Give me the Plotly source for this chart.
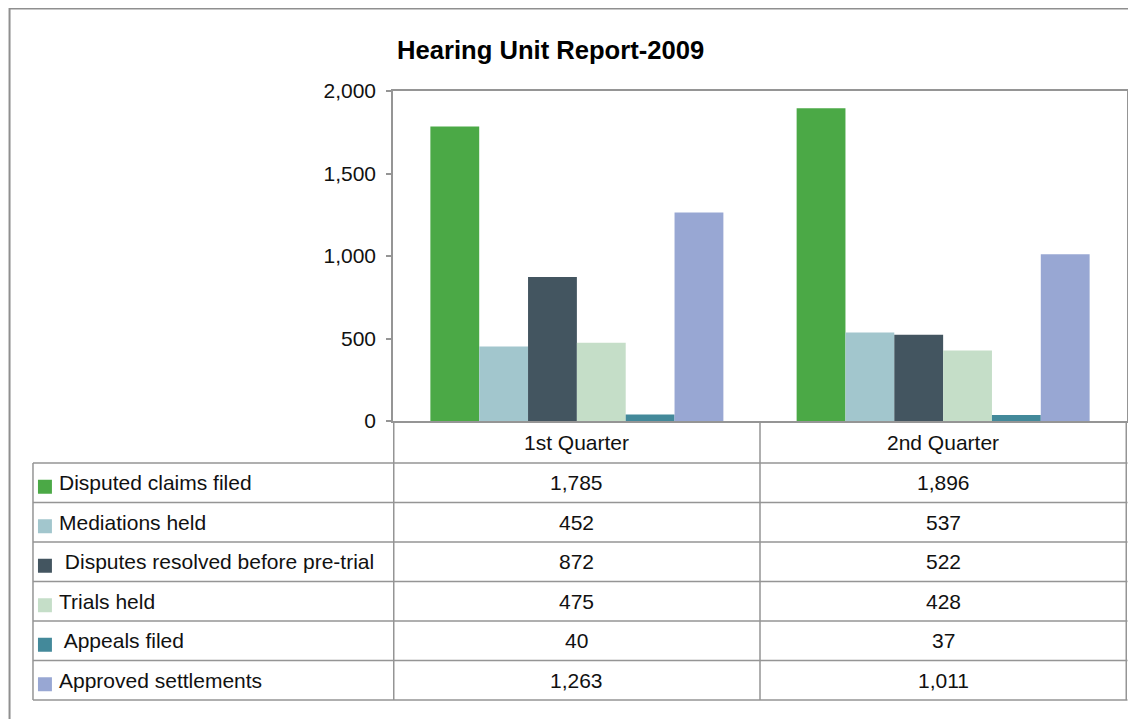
import plotly.graph_objects as go

# ---- data ----
quarters = ["1st Quarter", "2nd Quarter"]
series_names = [
    "Disputed claims filed",
    "Mediations held",
    " Disputes resolved before pre-trial",
    "Trials held",
    " Appeals filed",
    "Approved settlements",
]
disputed_claims = [1785, 1896]
mediations = [452, 537]
disputes_resolved = [872, 522]
trials = [475, 428]
appeals = [40, 37]
settlements = [1263, 1011]
series_values = [disputed_claims, mediations, disputes_resolved, trials, appeals, settlements]
colors = ["#4BA946", "#A2C6CD", "#435560", "#C5DEC8", "#43899A", "#98A7D3"]
title_text = "Hearing Unit Report-2009"
y_ticks = [0, 500, 1000, 1500, 2000]

# ---- layout geometry (screen pixels; page body has an 8px offset) ----
OFF = 8
W, H = 1136 - OFF, 719 - OFF
L, R, T, B = 393, 1129, 91, 421  # screen coords of plot area
FONT = "Liberation Sans, Arial, sans-serif"
GRID = "#959595"
FS = 21


def px(x):
    return (x - L) / (R - L)


def py(y):
    return (B - y) / (B - T)


fig = go.Figure()
for name, vals, col in zip(series_names, series_values, colors):
    fig.add_trace(go.Bar(x=quarters, y=vals, name=name.strip(), marker=dict(color=col, line=dict(width=0))))

shapes = []
annotations = []

# outer chart frame
shapes.append(dict(type="rect", xref="paper", yref="paper", x0=px(OFF + 0.5), x1=px(1160), y0=py(OFF + 0.5), y1=py(740),
                   line=dict(color="#8f8f8f", width=2), layer="below"))

# table geometry
header_bottom = 463
row_h = (700 - 463) / len(series_names)
table_left = 32

# vertical column dividers (data coordinates for category boundaries)
for xb in [-0.5, 0.5, 1.5]:
    shapes.append(dict(type="line", xref="x", yref="paper", x0=xb, x1=xb, y0=py(B), y1=py(700),
                       line=dict(color=GRID, width=1.5)))
shapes.append(dict(type="line", xref="paper", yref="paper", x0=px(table_left), x1=px(table_left),
                   y0=py(header_bottom), y1=py(700), line=dict(color=GRID, width=1.5)))
# horizontal lines
for i in range(len(series_names) + 1):
    yy = header_bottom + i * row_h
    shapes.append(dict(type="line", xref="paper", yref="paper", x0=px(table_left), x1=1.0 + 0.5 / (R - L),
                       y0=py(yy), y1=py(yy), line=dict(color=GRID, width=1.5)))

# header: category labels
for q in quarters:
    annotations.append(dict(x=q, y=py((B + header_bottom) / 2), xref="x", yref="paper", text=q,
                            showarrow=False, font=dict(family=FONT, size=FS, color="#111111"),
                            xanchor="center", yanchor="middle"))

# rows
for i, (name, vals, col) in enumerate(zip(series_names, series_values, colors)):
    yc = header_bottom + (i + 0.5) * row_h
    shapes.append(dict(type="rect", xref="paper", yref="paper", x0=px(37), x1=px(51),
                       y0=py(yc - 3), y1=py(yc + 11), fillcolor=col, line=dict(width=0)))
    annotations.append(dict(x=px(56), y=py(yc), xref="paper", yref="paper", text=name,
                            showarrow=False, font=dict(family=FONT, size=FS, color="#111111"),
                            xanchor="left", yanchor="middle"))
    for q, v in zip(quarters, vals):
        annotations.append(dict(x=q, y=py(yc), xref="x", yref="paper", text=f"{v:,}",
                                showarrow=False, font=dict(family=FONT, size=FS, color="#111111"),
                                xanchor="center", yanchor="middle"))

# title
annotations.append(dict(x=px(551), y=py(50), xref="paper", yref="paper", text=f"<b>{title_text}</b>",
                        showarrow=False, font=dict(family=FONT, size=25.6, color="#000000"),
                        xanchor="center", yanchor="middle"))

fig.update_layout(
    width=W, height=H,
    margin=dict(l=L - OFF, r=W - (R - OFF), t=T - OFF, b=H - (B - OFF)),
    paper_bgcolor="white", plot_bgcolor="white",
    barmode="group", bargap=0.2, bargroupgap=0,
    showlegend=False,
    shapes=shapes, annotations=annotations,
    font=dict(family=FONT, color="#111111"),
    xaxis=dict(showticklabels=False, showline=True, mirror=True, linecolor=GRID, linewidth=1.5,
               showgrid=False, zeroline=False, ticks=""),
    yaxis=dict(range=[0, 2000], tickvals=y_ticks, tickformat=",d", showline=True, mirror=True,
               linecolor=GRID, linewidth=1.5, ticks="outside", ticklen=5, tickcolor=GRID, tickwidth=1.5,
               showgrid=False, zeroline=False, tickfont=dict(family=FONT, size=FS, color="#111111"),
               ticklabelstandoff=6),
)

fig.write_html("out.html")
